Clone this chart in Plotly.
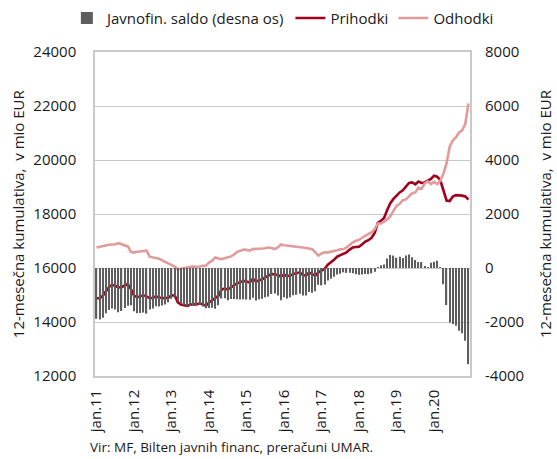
import plotly.graph_objects as go

# ---- data (12-month cumulative, mio EUR) ----
months = ["jan", "feb", "mar", "apr", "maj", "jun", "jul", "avg", "sep", "okt", "nov", "dec"]
years = [11, 12, 13, 14, 15, 16, 17, 18, 19, 20]
categories = [f"{m}.{y}" for y in years for m in months]
tick_labels = [f"jan.{y}" for y in years]

prihodki = [
    14880, 14880, 14970, 15160, 15300, 15370, 15340, 15280, 15290, 15350, 15400, 15220,
    14970, 14920, 14950, 14990, 14950, 14880, 14900, 14950, 14910, 14890, 14880, 14910,
    14980, 14990, 14730, 14650, 14620, 14600, 14640, 14660, 14650, 14690, 14650, 14600,
    14720, 14800, 14880, 14970, 15200, 15240, 15200, 15280, 15350, 15440, 15470, 15520,
    15500, 15460, 15600, 15500, 15540, 15580, 15650, 15700, 15780, 15760, 15740, 15680,
    15760, 15700, 15720, 15780, 15800, 15840, 15740, 15720, 15830, 15780, 15720, 15840,
    15900, 15970, 16120, 16200, 16300, 16420, 16480, 16540, 16580, 16680, 16760, 16780,
    16790, 16880, 16980, 17030, 17120, 17300, 17670, 17750, 17850, 18150, 18400, 18560,
    18680, 18800, 18880, 19000, 19150, 19170, 19100, 19200, 19150, 19170, 19220, 19300,
    19420, 19380, 19250, 18900, 18500, 18480, 18650, 18700, 18700, 18680, 18650, 18530,
]

odhodki = [
    16760, 16790, 16810, 16840, 16860, 16870, 16880, 16920, 16880, 16830, 16800, 16600,
    16570, 16600, 16620, 16640, 16640, 16420, 16400, 16370, 16340, 16280, 16230, 16180,
    16120, 16050, 15950, 15970, 16000, 16020, 16050, 16060, 16030, 16060, 16080, 16090,
    16200, 16270, 16390, 16350, 16330, 16360, 16390, 16430, 16500, 16600, 16640, 16680,
    16670, 16640, 16700, 16700, 16700, 16720, 16730, 16760, 16740, 16700, 16760, 16870,
    16840, 16830, 16800, 16790, 16790, 16790, 16760, 16740, 16720, 16700, 16580, 16460,
    16540, 16580, 16580, 16600, 16620, 16660, 16690, 16700, 16760, 16860, 16950, 17010,
    17040, 17120, 17200, 17260, 17320, 17440, 17650, 17650, 17720, 17800, 17920, 18100,
    18300, 18380, 18510, 18540, 18650, 18770, 18800, 18980, 18930, 19130, 19210, 19110,
    19190, 19110, 19230, 19500, 19870, 20495, 20725, 20840, 21020, 21100, 21340, 22090,
]

saldo = [
    -1880, -1910, -1840, -1680, -1560, -1500, -1540, -1640, -1590, -1480, -1400, -1380,
    -1600, -1680, -1670, -1650, -1690, -1540, -1500, -1420, -1430, -1390, -1350, -1270,
    -1140, -1060, -1220, -1320, -1380, -1420, -1410, -1400, -1380, -1370, -1430, -1490,
    -1480, -1470, -1510, -1380, -1130, -1120, -1190, -1150, -1150, -1160, -1170, -1160,
    -1170, -1180, -1100, -1200, -1160, -1140, -1080, -1060, -960, -940, -1020, -1190,
    -1080, -1130, -1080, -1010, -990, -950, -1020, -1020, -890, -920, -860, -620,
    -640, -610, -460, -400, -320, -240, -210, -160, -180, -180, -190, -230,
    -250, -240, -220, -230, -200, -140, 20, 100, 130, 350, 480, 460,
    380, 420, 370, 460, 500, 400, 300, 220, 220, 40, 10, 190,
    230, 270, 20, -600, -1370, -2015, -2075, -2140, -2320, -2420, -2690, -3560,
]

FONT = "Open Sans"
TXT = "#1a1a1a"
GRID = "#c9c9c9"

fig = go.Figure()
fig.add_trace(go.Bar(
    x=categories, y=saldo, name="Javnofin. saldo (desna os)",
    marker=dict(color="#5e5e5e", line=dict(width=0)), yaxis="y2",
))
fig.add_trace(go.Scatter(
    x=categories, y=prihodki, name="Prihodki", mode="lines",
    line=dict(color="#a3001e", width=2.6), yaxis="y",
))
fig.add_trace(go.Scatter(
    x=categories, y=odhodki, name="Odhodki", mode="lines",
    line=dict(color="#e29b9b", width=2.6), yaxis="y",
))

fig.update_layout(
    width=557, height=459,
    margin=dict(l=95, r=87, t=52, b=83, autoexpand=False),
    paper_bgcolor="white", plot_bgcolor="white",
    font=dict(family=FONT, size=15, color=TXT),
    bargap=0.6,
    showlegend=True,
    legend=dict(
        orientation="h", x=-0.075, xanchor="left", y=1.155, yanchor="top",
        font=dict(size=15, color=TXT), itemwidth=30, tracegroupgap=0,
        bgcolor="rgba(0,0,0,0)",
    ),
    xaxis=dict(
        type="category", categoryorder="array", categoryarray=categories,
        range=[-0.5, len(categories) - 0.5],
        tickmode="array", tickvals=tick_labels, ticktext=tick_labels,
        tickangle=-90, showgrid=False, ticks="", ticklabelstandoff=6,
        showline=True, linecolor=GRID, linewidth=1.5, mirror=True,
        tickfont=dict(size=15), zeroline=False, automargin=False,
    ),
    yaxis=dict(
        range=[12000, 24000], tickvals=[12000, 14000, 16000, 18000, 20000, 22000, 24000],
        showgrid=True, gridcolor=GRID, gridwidth=1,
        showline=True, linecolor=GRID, linewidth=1.5, mirror=True,
        ticks="", ticklabelstandoff=14, zeroline=False, tickformat="d", automargin=False,
    ),
    yaxis2=dict(
        range=[-4000, 8000], tickvals=[-4000, -2000, 0, 2000, 4000, 6000, 8000],
        ticktext=["-4000", "-2000", "0", "2000", "4000", "6000", "8000"],
        overlaying="y", side="right", showgrid=False, zeroline=False,
        ticks="", ticklabelstandoff=14, showline=False, automargin=False,
    ),
    annotations=[
        dict(text="12-mesečna kumulativa,\u00a0 v mio EUR", xref="paper", yref="paper",
             x=-0.205, y=0.5, textangle=-90, showarrow=False,
             xanchor="center", yanchor="middle", font=dict(size=15)),
        dict(text="12-mesečna kumulativa,\u00a0 v mio EUR", xref="paper", yref="paper",
             x=1.2, y=0.5, textangle=-90, showarrow=False,
             xanchor="center", yanchor="middle", font=dict(size=15)),
        dict(text="Vir: MF, Bilten javnih financ, preračuni UMAR.", xref="paper", yref="paper",
             x=-0.02, y=-0.218, xanchor="left", yanchor="middle", showarrow=False,
             font=dict(size=13.5)),
    ],
)

fig.write_html(
    "out.html",
    config={"displayModeBar": False},
    post_script="document.body.style.margin='0';document.body.style.overflow='hidden';",
)
